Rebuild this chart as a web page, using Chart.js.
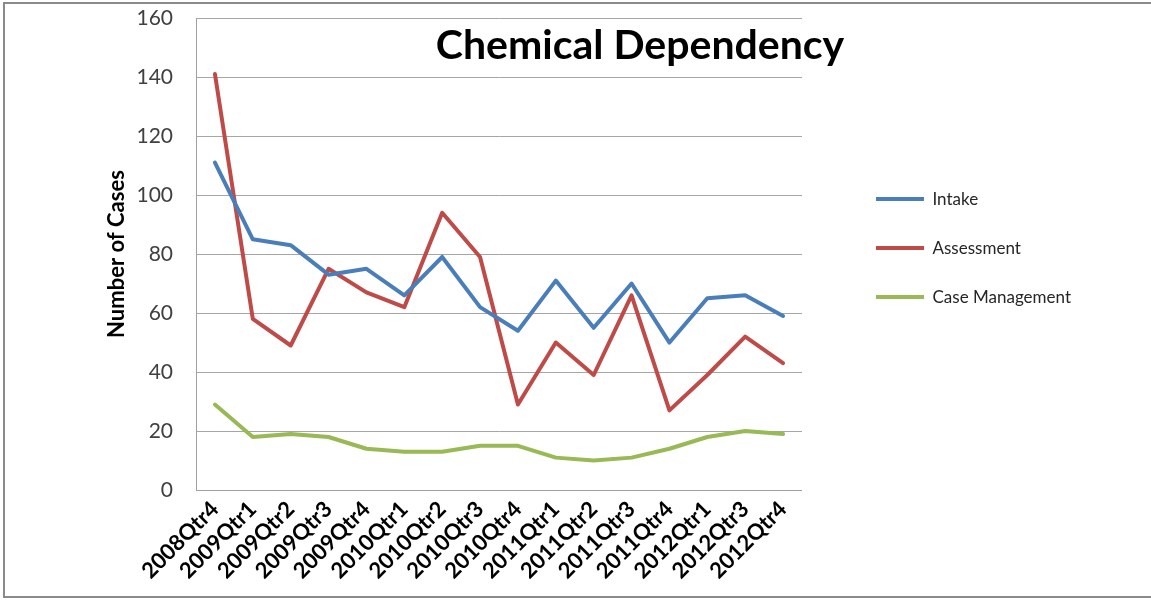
<!DOCTYPE html>
<html>
<head>
<meta charset="utf-8">
<script src="https://cdn.jsdelivr.net/npm/chart.js"></script>
<style>
    body { margin: 0; background: #fff; }
    .chart-container { position: relative; width: 1151px; height: 602px; }
    .frame {
        position: absolute; left: 3px; top: 2px; width: 1160px; height: 592px;
        border: 2px solid #8a8a8a; pointer-events: none;
    }
</style>
</head>
<body>
<div class="chart-container">
    <canvas id="myChart" width="1151" height="602"></canvas>
    <div class="frame"></div>
</div>
<script>
const quarters = ['2008Qtr4', '2009Qtr1', '2009Qtr2', '2009Qtr3', '2009Qtr4', '2010Qtr1', '2010Qtr2', '2010Qtr3',
    '2010Qtr4', '2011Qtr1', '2011Qtr2', '2011Qtr3', '2011Qtr4', '2012Qtr1', '2012Qtr3', '2012Qtr4'];
const intake = [111, 85, 83, 73, 75, 66, 79, 62, 54, 71, 55, 70, 50, 65, 66, 59];
const assessment = [141, 58, 49, 75, 67, 62, 94, 79, 29, 50, 39, 66, 27, 39, 52, 43];
const caseManagement = [29, 18, 19, 18, 14, 13, 13, 15, 15, 11, 10, 11, 14, 18, 20, 19];

const ctx = document.getElementById('myChart');

Chart.defaults.font.family = 'Lato, "Open Sans", sans-serif';

// title sits inside the plot, like the original
const chartTitle = {
    id: 'chartTitle',
    afterLayout(chart) {
        // legend a bit higher than the plot centre
        chart.legend.top -= 6;
        chart.legend.bottom -= 6;
    },
    afterDraw(chart) {
        const c = chart.ctx;
        c.save();
        c.font = 'bold 41px Lato, "Open Sans", sans-serif';
        c.fillStyle = '#000';
        c.textAlign = 'center';
        c.textBaseline = 'middle';
        c.fillText('Chemical Dependency', 640, 46);
        c.restore();
    }
};

// let labels hang over the edges instead of shrinking the plot
function noEdgePadding(scale) {
    scale.paddingLeft = 0;
    scale.paddingRight = 0;
    scale.paddingTop = 0;
    scale.paddingBottom = 0;
}

function series(label, data, color) {
    return {
        label: label,
        data: data,
        borderColor: color,
        backgroundColor: color,
        borderWidth: 4,
        borderCapStyle: 'round',
        borderJoinStyle: 'round',
        pointRadius: 0,
        pointHoverRadius: 0,
        tension: 0,
        fill: false,
        pointStyle: 'line'
    };
}

new Chart(ctx, {
    type: 'line',
    data: {
        labels: quarters,
        datasets: [
            series('Intake', intake, '#4a7ebb'),
            series('Assessment', assessment, '#be4b48'),
            series('Case Management', caseManagement, '#98b954')
        ]
    },
    options: {
        responsive: false,
        animation: false,
        layout: {
            padding: { left: 104, top: 18, right: 70, bottom: 12 }
        },
        scales: {
            x: {
                offset: true,
                grid: { display: false, drawTicks: false },
                border: { color: '#a0a0a0', width: 1 },
                ticks: {
                    color: '#000',
                    font: { size: 22, weight: 'bold' },
                    minRotation: 45,
                    maxRotation: 45,
                    padding: 6,
                    autoSkip: false
                },
                afterFit: noEdgePadding
            },
            y: {
                min: 0,
                max: 160,
                grid: { color: '#a6a6a6', lineWidth: 1, drawTicks: false },
                border: { color: '#a0a0a0', width: 1 },
                ticks: {
                    stepSize: 20,
                    color: '#404040',
                    font: { size: 21 },
                    padding: 23
                },
                title: {
                    display: true,
                    text: 'Number of Cases',
                    color: '#000',
                    font: { size: 22, weight: 'bold' },
                    padding: { top: 0, bottom: 8 }
                },
                afterFit(scale) {
                    noEdgePadding(scale);
                    scale.width = 92;
                }
            },
            // empty spacer between the plot and the legend
            gap: {
                position: 'right',
                display: true,
                grid: { display: false },
                border: { display: false },
                ticks: { display: false },
                afterFit(scale) {
                    noEdgePadding(scale);
                    scale.width = 42;
                }
            }
        },
        plugins: {
            legend: {
                position: 'right',
                fullSize: false,
                maxWidth: 260,
                labels: {
                    usePointStyle: true,
                    pointStyleWidth: 48,
                    color: '#262626',
                    font: { size: 17 },
                    padding: 32
                }
            },
            tooltip: { enabled: false }
        }
    },
    plugins: [chartTitle]
});
</script>
</body>
</html>
